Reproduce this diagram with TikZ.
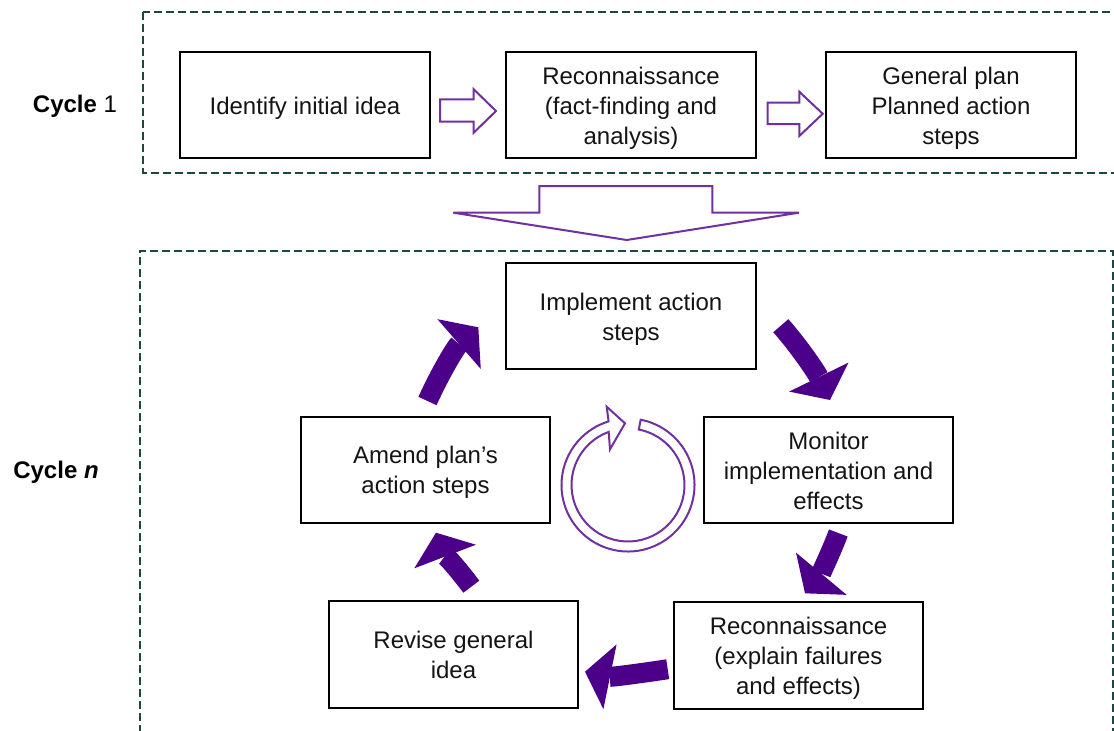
\documentclass[tikz,border=0pt]{standalone}
\usepackage{fontspec}
\setmainfont{Liberation Sans}
\usetikzlibrary{arrows.meta,calc}
\definecolor{framegreen}{RGB}{28,72,66}
\definecolor{outlinepurple}{RGB}{112,48,160}
\definecolor{cycleindigo}{RGB}{76,0,138}
\definecolor{boxtext}{RGB}{20,20,20}
% struts that give every stage text the same top and bottom room
\newcommand{\stagetop}{\rule{0pt}{24pt}}
\newcommand{\stagebot}{\rule[-6pt]{0pt}{6pt}}
\begin{document}
\begin{tikzpicture}[x=1pt,y=-1pt,
  stagebox/.style={draw=black, line width=2pt, minimum width=250pt,
    minimum height=106pt, align=center, inner sep=0pt,
    font=\fontsize{24}{30}\selectfont, text=boxtext},
  cyclelabel/.style={font=\fontsize{24}{30}\selectfont, text=black},
  frame/.style={draw=framegreen, line width=2pt, dash pattern=on 8pt off 4pt},
  blockarrow/.style={draw=outlinepurple, line width=2pt, line join=miter, fill=white},
  ringline/.style={draw=outlinepurple, line width=2pt, line join=miter},
  flowarrow/.style={draw=cycleindigo, line width=20pt, line cap=butt,
    -{Triangle[length=25.5pt 0 0, width=66pt 0 0, line width=0pt 0 0]}}
]
\useasboundingbox (0,0) rectangle (1114,731);

% dashed frames of the two cycles
\draw[frame] (143.3,12.3) rectangle (1120,172.7);
\draw[frame] (140,745) -- (140,250.7) -- (1112.7,250.7) -- (1112.7,745);

% cycle labels
\node[cyclelabel] (c1label) at (75,106) {\textbf{Cycle} 1};
\node[cyclelabel] (cnlabel) at (56,472) {\textbf{Cycle \textit{n}}};

% first cycle
\node[stagebox] (idea)  at (305,105) {\stagetop Identify initial idea\stagebot};
\node[stagebox] (recon) at (631,105) {\stagetop Reconnaissance\\(fact-finding and\\analysis)\stagebot};
\node[stagebox] (plan)  at (951,105) {\stagetop General plan\\Planned action\\steps\stagebot};

% hollow block arrows between the first-cycle stages
\coordinate (ba1) at ($(idea.east)+(9,-5.7)$);
\draw[blockarrow] (ba1) -- ++(33.7,0) -- ++(0,-10) -- ++(22.3,21.7) -- ++(-22.3,21.7)
  -- ++(0,-11) -- ++(-33.7,0) -- cycle;
\coordinate (ba2) at ($(recon.east)+(10.7,-2.3)$);
\draw[blockarrow] (ba2) -- ++(31.6,0) -- ++(0,-11) -- ++(23.4,22.1) -- ++(-23.4,22.2)
  -- ++(0,-12) -- ++(-31.6,0) -- cycle;

% wide hollow arrow leading into cycle n
\coordinate (down) at (626.7,240);
\draw[blockarrow] (539.3,186) -- (712.3,186) -- (712.3,212.7) -- (799,212.7)
  -- (down) -- (453.3,212.7) -- (539.3,212.7) -- cycle;

% cycle n
\node[stagebox] (implement) at (631,316) {\stagetop Implement action\\steps\stagebot};
\node[stagebox, minimum width=249pt] (monitor) at (828.5,470)
  {\stagetop Monitor\\implementation and\\effects\stagebot};
\node[stagebox, minimum width=249pt, minimum height=107pt] (explain) at (798.5,655.5)
  {\stagetop Reconnaissance\\(explain failures\\and effects)\stagebot};
\node[stagebox, minimum width=249pt, minimum height=107pt] (revise) at (453.5,654)
  {\stagetop Revise general\\idea\stagebot};
\node[stagebox, minimum width=249pt] (amend) at (425.5,469.5)
  {\stagetop Amend plan’s\\action steps\stagebot};

% curved arrows around the cycle
\coordinate (tA) at (427.5,401);   \coordinate (hA) at (478.3,327.3);
\coordinate (tB) at (780.8,325.7); \coordinate (hB) at (830,400);
\coordinate (tC) at (838.3,533);   \coordinate (hC) at (805,593.3);
\coordinate (tD) at (667.7,669.2); \coordinate (hD) at (585,671.7);
\coordinate (tE) at (471.3,586.7); \coordinate (hE) at (436,532.7);
\draw[flowarrow] (tA) .. controls (439.8,373.7) and (455.7,347) .. (hA);
\draw[flowarrow] (tB) .. controls (800.6,348.2) and (816.8,373) .. (hB);
\draw[flowarrow] (tC) .. controls (830.6,553.7) and (819.1,576.4) .. (hC);
\draw[flowarrow] (tD) .. controls (641,673.3) and (611.5,677.1) .. (hD);
\draw[flowarrow] (tE) .. controls (458.7,569.9) and (443.5,552.3) .. (hE);

% circular arrow in the middle of the cycle
\coordinate (ring) at (628,485);
\draw[ringline] ($(ring)+(-79:66.5)$) arc[start angle=-79, end angle=253, radius=66.5]
  -- ($(ring)+(-21.3,-78.3)$) -- ($(ring)+(-3,-61.7)$) -- ($(ring)+(-18,-35.7)$)
  -- ($(ring)+(250:56.5)$) arc[start angle=250, end angle=-79, radius=56.5] -- cycle;
\end{tikzpicture}
\end{document}
